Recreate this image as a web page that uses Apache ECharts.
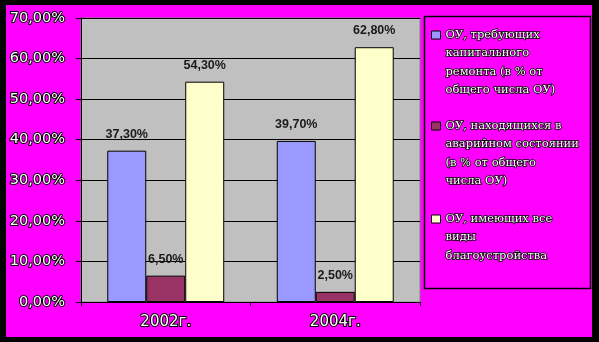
<!DOCTYPE html>
<html lang="ru">
<head>
    <meta charset="UTF-8">
    <script src="https://cdn.jsdelivr.net/npm/echarts@6/dist/echarts.min.js"></script>
    <title>ОУ</title>
    <style>
        html, body { margin: 0; padding: 0; background: #000; }
    </style>
</head>
<body>
    <div id="main" style="width: 599px; height: 342px;"></div>
    <script>
        // data
        var years = ['2002г.', '2004г.'];
        var seriesNames = [
            'ОУ, требующих\nкапитального\nремонта (в % от\nобщего числа ОУ)',
            'ОУ, находящихся в\nаварийном состоянии\n(в % от общего\nчисла ОУ)',
            'ОУ, имеющих все\nвиды\nблагоустройства'
        ];
        var needRepair = [37.3, 39.7];
        var emergency = [6.5, 2.5];
        var allAmenities = [54.3, 62.8];
        var colors = ['#9999ff', '#993366', '#ffffcc'];

        var values = [needRepair, emergency, allAmenities];

        function pct(v) {
            return v.toFixed(2).replace('.', ',') + '%';
        }

        var outlined = {
            color: '#fff',
            textBorderColor: '#000',
            textBorderWidth: 2,
            fontFamily: 'DejaVu Sans',
            fontSize: 14.5
        };

        // legend: one per series; blank lines in front push the swatch onto the first line
        var lineH = 18.5;
        var iconY = [35, 126, 219];
        var legends = seriesNames.map(function (name, i) {
            var lines = name.split('\n').length;
            var boxH = (2 * lines - 1) * lineH;
            return {
                orient: 'vertical',
                left: 431,
                top: iconY[i] - boxH / 2,
                padding: 0,
                itemWidth: 9,
                itemHeight: 8,
                icon: 'rect',
                selectedMode: false,
                data: [name],
                formatter: function (n) {
                    return new Array(lines).join('\n') + n;
                },
                itemStyle: { borderColor: '#000', borderWidth: 1 },
                textStyle: {
                    color: '#fff',
                    textBorderColor: '#000',
                    textBorderWidth: 1.5,
                    fontFamily: 'DejaVu Serif',
                    fontSize: 11.5,
                    lineHeight: lineH
                }
            };
        });

        var chart = echarts.init(document.getElementById('main'));
        var option = {
            backgroundColor: '#000',
            animation: false,
            graphic: [
                { type: 'rect', z: -10, shape: { x: 6, y: 5, width: 586, height: 332 }, style: { fill: '#ff00ff' } },
                { type: 'rect', z: 10, shape: { x: 424.5, y: 16.5, width: 166, height: 272 }, style: { fill: 'none', stroke: '#000', lineWidth: 1.5 } }
            ],
            legend: legends,
            grid: {
                left: 81, right: 179, top: 18, bottom: 40,
                show: true,
                backgroundColor: '#c0c0c0',
                borderColor: '#808080',
                borderWidth: 1
            },
            xAxis: {
                type: 'category',
                data: years,
                axisLine: { lineStyle: { color: '#000', width: 1 } },
                axisTick: { show: true, length: 4, lineStyle: { color: '#000' } },
                axisLabel: Object.assign({}, outlined, { margin: 13, fontSize: 15 })
            },
            yAxis: {
                type: 'value',
                min: 0, max: 70, interval: 10,
                axisLine: { show: true, lineStyle: { color: '#000' } },
                axisTick: { show: true, length: 5, lineStyle: { color: '#000' } },
                splitLine: { lineStyle: { color: '#000', width: 1 } },
                axisLabel: Object.assign({ margin: 16, formatter: function (v) { return pct(v); } }, outlined)
            },
            series: seriesNames.map(function (name, i) {
                return {
                    name: name,
                    type: 'bar',
                    data: values[i],
                    barGap: '0%',
                    barCategoryGap: '31%',
                    itemStyle: { color: colors[i], borderColor: '#000', borderWidth: 1 },
                    label: {
                        show: true,
                        position: 'top',
                        distance: 10,
                        color: '#1a1a1a',
                        fontFamily: 'Liberation Sans',
                        fontWeight: 'bold',
                        fontSize: 12.5,
                        formatter: function (p) { return pct(p.value); }
                    }
                };
            })
        };
        chart.setOption(option);
    </script>
</body>
</html>
